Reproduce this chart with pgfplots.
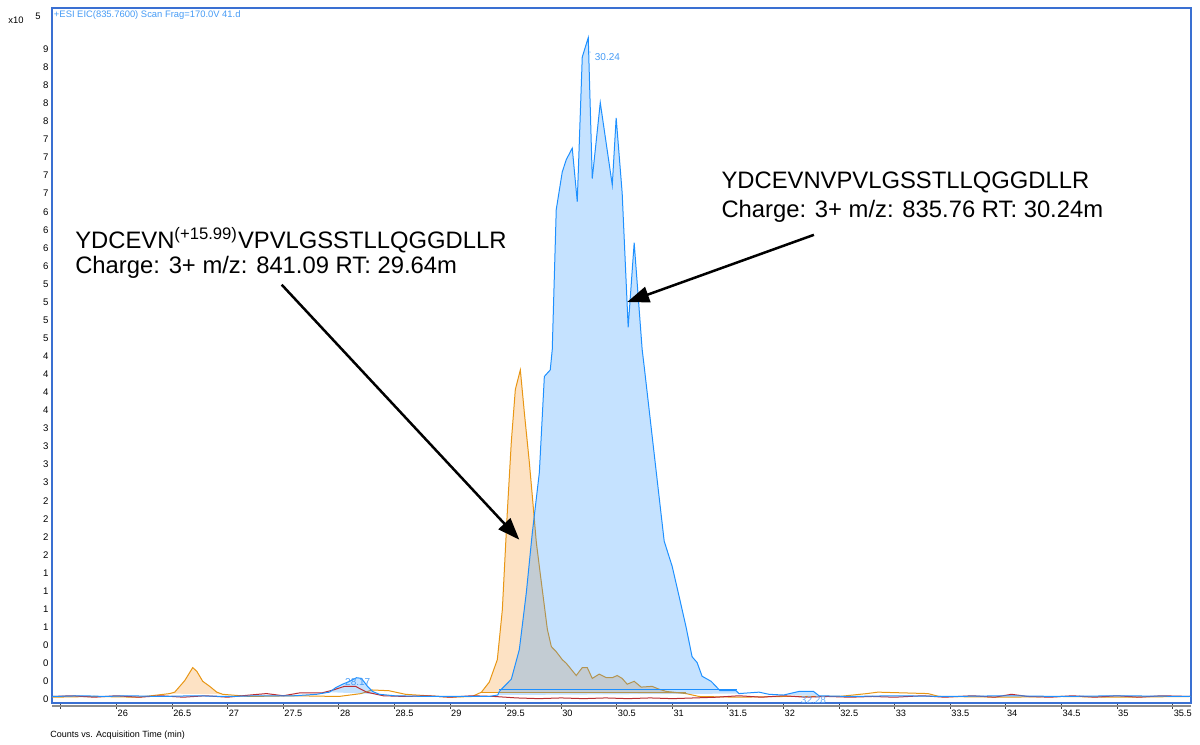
\documentclass[border=0pt]{standalone}
\usepackage{pgfplots}
\usepackage{pgfplotstable}
\pgfplotsset{compat=1.18}
\usepackage{fontspec}
\setmainfont{Liberation Sans}
\usetikzlibrary{arrows.meta}

\definecolor{eicblue}{RGB}{30,144,255}
\definecolor{eicorange}{RGB}{232,150,20}
\definecolor{eicorangefill}{RGB}{253,226,196}
\definecolor{eicred}{RGB}{185,45,50}
\definecolor{framebl}{RGB}{58,112,210}
\definecolor{lbl}{RGB}{70,155,245}

% EIC 835.76 (unmodified peptide)
\pgfplotstableread{
t c
25.42 0.04
25.7 0.05
25.9 0.04
26.1 0.05
26.4 0.04
26.7 0.05
27.0 0.04
27.3 0.05
27.6 0.05
27.8 0.07
27.917 0.10
27.97 0.16
28.034 0.21
28.097 0.25
28.160 0.30
28.204 0.29
28.258 0.18
28.303 0.11
28.366 0.07
28.5 0.05
28.8 0.04
29.1 0.04
29.35 0.04
29.43 0.06
29.444 0.11
29.552 0.28
29.624 0.69
29.687 1.48
29.741 2.31
29.804 3.14
29.849 4.47
29.902 4.56
29.920 4.84
29.956 6.78
30.010 7.30
30.046 7.47
30.100 7.63
30.145 6.89
30.190 8.89
30.244 9.16
30.280 7.21
30.352 8.26
30.460 7.12
30.495 8.05
30.549 7.01
30.603 5.15
30.657 6.32
30.729 4.84
30.747 4.61
30.819 3.64
30.927 2.19
30.999 1.84
31.062 1.42
31.124 1.00
31.178 0.59
31.223 0.51
31.268 0.32
31.349 0.25
31.430 0.12
31.574 0.12
31.600 0.08
31.780 0.10
31.870 0.07
32.0 0.06
32.14 0.11
32.27 0.11
32.32 0.05
32.6 0.04
33.0 0.05
33.5 0.04
34.0 0.05
34.5 0.04
35.0 0.05
35.666 0.04
}\eicA

% EIC 841.09 (oxidised peptide)
\pgfplotstableread{
t c
25.42 0.03
25.8 0.04
26.2 0.03
26.479 0.08
26.524 0.10
26.614 0.26
26.686 0.44
26.722 0.39
26.776 0.25
26.839 0.18
26.902 0.10
26.956 0.07
27.2 0.04
27.6 0.05
28.0 0.04
28.2 0.08
28.3 0.13
28.45 0.12
28.6 0.07
28.8 0.05
29.0 0.03
29.2 0.04
29.283 0.10
29.354 0.24
29.426 0.55
29.471 1.24
29.516 2.60
29.552 3.57
29.588 4.29
29.633 4.56
29.669 3.97
29.714 3.28
29.741 2.81
29.777 2.17
29.822 1.62
29.876 0.97
29.912 0.73
29.956 0.66
30.010 0.55
30.046 0.50
30.136 0.33
30.190 0.44
30.235 0.44
30.280 0.29
30.343 0.35
30.406 0.30
30.460 0.30
30.504 0.33
30.549 0.29
30.594 0.21
30.657 0.25
30.720 0.17
30.819 0.18
30.882 0.14
30.945 0.11
31.124 0.08
31.24 0.04
31.6 0.03
32.0 0.04
32.5 0.04
32.75 0.08
32.85 0.10
33.3 0.08
33.4 0.04
34.0 0.03
34.5 0.04
35.0 0.03
35.666 0.04
}\eicB

% third trace
\pgfplotstableread{
t c
25.42 0.04
25.6 0.05
25.8 0.03
26.0 0.05
26.2 0.03
26.4 0.05
26.6 0.03
26.8 0.05
27.0 0.03
27.2 0.06
27.35 0.08
27.5 0.05
27.65 0.09
27.85 0.09
27.95 0.13
28.05 0.18
28.15 0.18
28.25 0.10
28.4 0.05
28.6 0.04
28.8 0.05
29.0 0.03
29.2 0.05
29.4 0.04
29.6 0.02
29.8 0.01
30.0 0.02
30.2 0.01
30.4 0.02
30.6 0.01
30.8 0.02
31.0 0.01
31.2 0.02
31.4 0.03
31.6 0.05
31.8 0.03
32.0 0.05
32.2 0.03
32.4 0.04
32.6 0.03
32.8 0.04
33.0 0.03
33.25 0.05
33.45 0.03
33.7 0.05
33.9 0.03
34.05 0.07
34.2 0.04
34.4 0.03
34.6 0.05
34.8 0.03
35.0 0.05
35.2 0.03
35.4 0.05
35.666 0.04
}\eicC

\begin{document}
\begin{tikzpicture}
\begin{axis}[
  name=ax,
  scale only axis,
  width=569.5pt, height=347.5pt,
  xmin=25.42, xmax=35.666,
  ymin=-0.05, ymax=9.57,
  axis line style={framebl, line width=1.2pt},
  xtick={25.5,26,26.5,27,27.5,28,28.5,29,29.5,30,30.5,31,31.5,32,32.5,33,33.5,34,34.5,35,35.5},
  xticklabels={,26,26.5,27,27.5,28,28.5,29,29.5,30,30.5,31,31.5,32,32.5,33,33.5,34,34.5,35,35.5},
  xtick pos=lower, ytick pos=left,
  tick align=outside, major tick length=3pt,
  xtick style={black!75, line width=0.4pt},
  xticklabel style={font=\fontsize{4.6}{5}\selectfont, anchor=north west, inner sep=0pt, xshift=0.4pt, yshift=-0.5pt},
  ytick={0,0.25,...,9},
  yticklabels={0,0,0,0,1,1,1,1,2,2,2,2,3,3,3,3,4,4,4,4,5,5,5,5,6,6,6,6,7,7,7,7,8,8,8,8,9},
  ytick style={draw=none},
  yticklabel style={font=\fontsize{4.8}{5}\selectfont, anchor=east, inner sep=0pt, xshift=1.4pt},
  /pgf/number format/assume math mode=true,
]
% peak areas of the 841.09 trace
\addplot[draw=none, fill=eicorangefill, restrict x to domain=26.45:26.97] table[x=t,y=c]{\eicB} -- cycle;
\addplot[draw=none, fill=eicorangefill, restrict x to domain=29.27:31.13] table[x=t,y=c]{\eicB} -- cycle;
\addplot[eicorange, line width=0.5pt] table[x=t,y=c]{\eicB};
\addplot[eicorange, line width=0.5pt] coordinates {(29.28,0.09) (31.12,0.09)};
% peak areas of the 835.76 trace (translucent)
\addplot[draw=none, fill=eicblue, fill opacity=0.26, restrict x to domain=27.9:28.37] table[x=t,y=c]{\eicA} -- cycle;
\addplot[draw=none, fill=eicblue, fill opacity=0.26, restrict x to domain=29.42:31.61] table[x=t,y=c]{\eicA} -- cycle;
\addplot[draw=none, fill=eicblue, fill opacity=0.26, restrict x to domain=32.0:32.33] table[x=t,y=c]{\eicA} -- cycle;
\addplot[eicred, line width=0.5pt] table[x=t,y=c]{\eicC};
\addplot[eicblue, line width=0.5pt] table[x=t,y=c]{\eicA};
\addplot[eicblue, line width=0.5pt] coordinates {(29.44,0.14) (31.58,0.14)};

% peak labels
\node[lbl, font=\fontsize{5}{6}\selectfont, anchor=west, inner sep=0pt] at (axis cs:30.30,8.89) {30.24};
\node[lbl, font=\fontsize{4}{5}\selectfont, inner sep=0pt] at (axis cs:30.26,8.92) {'};
\node[lbl, font=\fontsize{5}{6}\selectfont, inner sep=0pt] at (axis cs:28.17,0.24) {28.17};
\node[lbl!80, font=\fontsize{5}{6}\selectfont, inner sep=0pt] at (axis cs:32.27,-0.01) {32.28};

% annotations
\node[anchor=west, inner sep=0pt, font=\fontsize{11.9}{13}\selectfont] at (axis cs:25.626,6.36)
  {YDCEVN\textsuperscript{(+15.99)}VPVLGSSTLLQGGDLLR};
\node[anchor=west, inner sep=0pt, font=\fontsize{11.9}{13}\selectfont] at (axis cs:25.626,5.98)
  {Charge: 3+ m/z: 841.09 RT: 29.64m};
\node[anchor=west, inner sep=0pt, font=\fontsize{11.9}{13}\selectfont] at (axis cs:31.439,7.15)
  {YDCEVNVPVLGSSTLLQGGDLLR};
\node[anchor=west, inner sep=0pt, font=\fontsize{11.9}{13}\selectfont] at (axis cs:31.439,6.76)
  {Charge: 3+ m/z: 835.76 RT: 30.24m};
\draw[line width=1.25pt, -{Triangle[length=11pt,width=8pt]}] (axis cs:27.486,5.74) -- (axis cs:29.624,2.21);
\draw[line width=1.25pt, -{Triangle[length=11pt,width=8pt]}] (axis cs:32.274,6.43) -- (axis cs:30.594,5.50);
\end{axis}

% shadow line under the time axis
\draw[black!45, line width=0.8pt] ([yshift=-1.4pt]ax.south west) -- ([yshift=-1.4pt]ax.south east);

% header and footer texts
\node[lbl, anchor=west, inner sep=0pt, font=\fontsize{4.7}{5}\selectfont] at ([shift={(0.8pt,-3.5pt)}]ax.north west)
  {+ESI EIC(835.7600) Scan Frag=170.0V 41.d};
\node[anchor=west, inner sep=0pt, font=\fontsize{4.7}{5}\selectfont] at ([shift={(-22pt,-6pt)}]ax.north west) {x10};
\node[anchor=west, inner sep=0pt, font=\fontsize{4.7}{5}\selectfont] at ([shift={(-8.5pt,-4pt)}]ax.north west) {5};
\node[anchor=west, inner sep=0pt, font=\fontsize{4.5}{5}\selectfont] at ([shift={(-1pt,-16pt)}]ax.south west)
  {Counts vs. Acquisition Time (min)};

\pgfresetboundingbox
\path ([shift={(-26pt,-21pt)}]ax.south west) rectangle ([shift={(4.5pt,4pt)}]ax.north east);
\end{tikzpicture}
\end{document}
